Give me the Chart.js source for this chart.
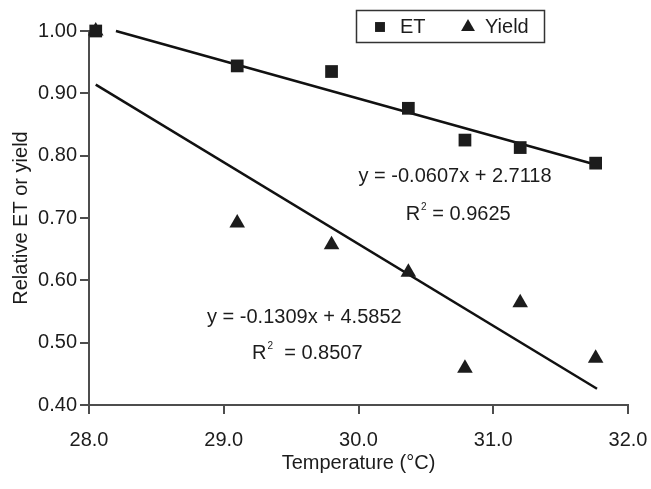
<!DOCTYPE html>
<html>
<head>
<meta charset="utf-8">
<script src="https://cdn.jsdelivr.net/npm/chart.js@4.4.1/dist/chart.umd.min.js"></script>
<style>
  html, body { margin: 0; padding: 0; background: #fff; }
  canvas { display: block; }
</style>
</head>
<body>
<canvas id="myChart" width="651" height="489"></canvas>
<script>
// values
const temps = [28.05, 29.1, 29.8, 30.37, 30.79, 31.2, 31.76];
const etValues = [1.000, 0.944, 0.935, 0.876, 0.825, 0.813, 0.788];
const yieldValues = [1.000, 0.692, 0.657, 0.613, 0.459, 0.564, 0.475];

// fitted lines, end points as drawn
const etFitX = [28.2, 31.77];
const etFitY = [1.000, 0.785];
const yieldFitX = [28.05, 31.77];
const yieldFitY = [0.914, 0.426];

const xTicks = [28, 29, 30, 31, 32];
const yTicks = [0.4, 0.5, 0.6, 0.7, 0.8, 0.9, 1.0];

// equation labels: [text, x, y] in data units
const etEquation = ['y = -0.0607x + 2.7118', 30.0, 0.766];
const etR2 = ['0.9625', 30.35, 0.706, ' = '];
const yieldEquation = ['y = -0.1309x + 4.5852', 28.876, 0.541];
const yieldR2 = ['0.8507', 29.21, 0.483, '  = '];

const FONT = '"Liberation Sans", Arial, Helvetica, sans-serif';
const AXIS_COLOR = '#4d4d4d';
const INK = '#1c1c1c';

function toPoints(xs, ys) {
    return xs.map(function(x, i) { return { x: x, y: ys[i] }; });
}

// draws the equations and the boxed legend
const chartText = {
    id: 'chartText',
    afterDraw: function(chart) {
        const ctx = chart.ctx;
        const xs = chart.scales.x;
        const ys = chart.scales.y;
        ctx.save();
        ctx.fillStyle = INK;
        ctx.textBaseline = 'middle';
        ctx.textAlign = 'left';
        ctx.font = '20px ' + FONT;

        [etEquation, yieldEquation].forEach(function(eq) {
            ctx.fillText(eq[0], xs.getPixelForValue(eq[1]), ys.getPixelForValue(eq[2]));
        });

        [etR2, yieldR2].forEach(function(r) {
            let px = xs.getPixelForValue(r[1]);
            const py = ys.getPixelForValue(r[2]);
            ctx.font = '20px ' + FONT;
            ctx.fillText('R', px, py);
            px += ctx.measureText('R').width + 1;
            ctx.font = '10px ' + FONT;
            ctx.fillText('2', px, py - 7);
            px += ctx.measureText('2').width;
            ctx.font = '20px ' + FONT;
            ctx.fillText(r[3] + r[0], px, py);
        });

        // legend
        ctx.strokeStyle = '#333';
        ctx.lineWidth = 1.5;
        ctx.strokeRect(356.5, 10.5, 188, 32);
        const items = [
            { ds: chart.data.datasets[0], mx: 380, tx: 400, r: 7 },
            { ds: chart.data.datasets[1], mx: 468, tx: 485, r: 8 }
        ];
        items.forEach(function(it) {
            ctx.fillStyle = INK;
            ctx.strokeStyle = INK;
            Chart.helpers.drawPoint(ctx, {
                pointStyle: it.ds.pointStyle,
                radius: it.r,
                rotation: 0,
                borderWidth: 0
            }, it.mx, 27);
            ctx.font = '20px ' + FONT;
            ctx.fillText(it.ds.label, it.tx, 27);
        });
        ctx.restore();
    }
};

const ctx = document.getElementById('myChart').getContext('2d');
const myChart = new Chart(ctx, {
    type: 'scatter',
    data: {
        datasets: [{
            label: 'ET',
            data: toPoints(temps, etValues),
            pointStyle: 'rect',
            pointRadius: 9,
            backgroundColor: INK,
            borderWidth: 0,
            clip: false
        }, {
            label: 'Yield',
            data: toPoints(temps, yieldValues),
            pointStyle: 'triangle',
            pointRadius: 9,
            backgroundColor: INK,
            borderWidth: 0,
            clip: false
        }, {
            label: 'ET fit',
            data: toPoints(etFitX, etFitY),
            showLine: true,
            pointRadius: 0,
            borderColor: '#111',
            borderWidth: 2.5,
            clip: false
        }, {
            label: 'Yield fit',
            data: toPoints(yieldFitX, yieldFitY),
            showLine: true,
            pointRadius: 0,
            borderColor: '#111',
            borderWidth: 2.5,
            clip: false
        }]
    },
    options: {
        responsive: false,
        animation: false,
        layout: { padding: { top: 31, right: 23, left: 0, bottom: 0 } },
        plugins: {
            legend: { display: false },
            tooltip: { enabled: false }
        },
        scales: {
            x: {
                type: 'linear',
                min: 28,
                max: 32,
                afterBuildTicks: function(scale) {
                    scale.ticks = xTicks.map(function(v) { return { value: v }; });
                },
                afterFit: function(scale) {
                    scale.height = 84;
                    scale.paddingLeft = 0;
                    scale.paddingRight = 0;
                },
                ticks: {
                    font: { family: FONT, size: 20 },
                    color: INK,
                    padding: 14,
                    callback: function(v) { return Number(v).toFixed(1); }
                },
                grid: {
                    drawOnChartArea: false,
                    drawTicks: true,
                    tickLength: 9,
                    color: AXIS_COLOR,
                    lineWidth: 2
                },
                border: { color: AXIS_COLOR, width: 2 },
                title: {
                    display: true,
                    text: 'Temperature (°C)',
                    font: { family: FONT, size: 20 },
                    color: INK,
                    padding: { top: 0, bottom: 14 }
                }
            },
            y: {
                min: 0.4,
                max: 1.0,
                afterBuildTicks: function(scale) {
                    scale.ticks = yTicks.map(function(v) { return { value: v }; });
                },
                afterFit: function(scale) {
                    scale.width = 89;
                    scale.paddingTop = 0;
                    scale.paddingBottom = 0;
                },
                ticks: {
                    font: { family: FONT, size: 20 },
                    color: INK,
                    padding: 3,
                    callback: function(v) { return Number(v).toFixed(2); }
                },
                grid: {
                    drawOnChartArea: false,
                    drawTicks: true,
                    tickLength: 9,
                    color: AXIS_COLOR,
                    lineWidth: 2
                },
                border: { color: AXIS_COLOR, width: 2 },
                title: {
                    display: true,
                    text: 'Relative ET or yield',
                    font: { family: FONT, size: 20 },
                    color: INK,
                    padding: { top: 9, bottom: 0 }
                }
            }
        }
    },
    plugins: [chartText]
});
</script>
</body>
</html>
